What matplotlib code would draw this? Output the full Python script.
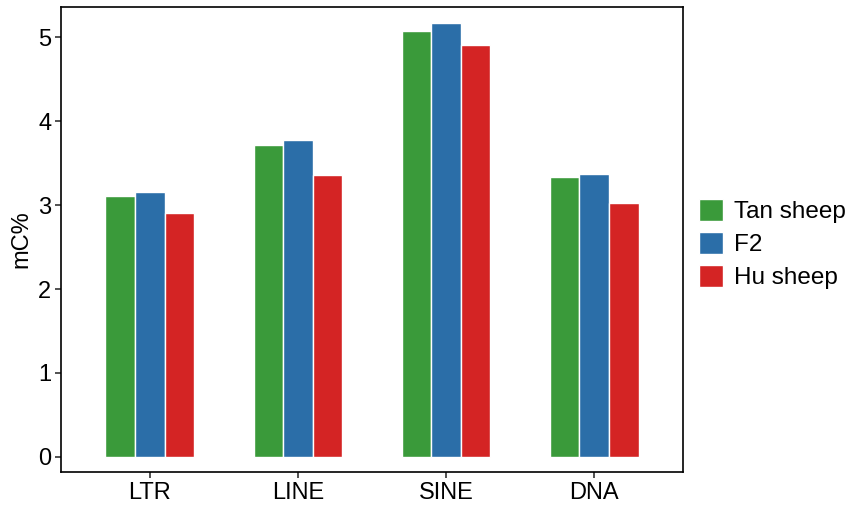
import numpy as np
import matplotlib
matplotlib.use("Agg")
import matplotlib.pyplot as plt

plt.rcParams['font.family'] = ['Liberation Sans', 'DejaVu Sans']

categories = ["LTR", "LINE", "SINE", "DNA"]
groups = ["Tan sheep", "F2", "Hu sheep"]
tan_sheep = [3.11, 3.71, 5.07, 3.33]
f2 = [3.16, 3.77, 5.17, 3.37]
hu_sheep = [2.91, 3.36, 4.91, 3.02]
colors = ["#3a9a3a", "#2b6ea8", "#d42424"]

fig = plt.figure(figsize=(8.51, 5.09), dpi=100)
ax = fig.add_axes([0.0717, 0.0727, 0.7309, 0.9136])

x = np.arange(1, len(categories) + 1)
w = 0.2
for i, (vals, name) in enumerate(zip([tan_sheep, f2, hu_sheep], groups)):
    ax.bar(x + (i - 1) * w, vals, width=w, color=colors[i], edgecolor="white",
           linewidth=1.0, label=name)

ax.set_xlim(0.4, 4.6)
ax.set_ylim(-0.18, 5.36)
ax.set_xticks(x)
ax.set_xticklabels(categories)
ax.set_yticks([0, 1, 2, 3, 4, 5])
ax.tick_params(axis='both', labelsize=17, length=4, width=1.2, color='#333333', pad=3)
ax.set_ylabel("mC%", fontsize=17, labelpad=4)
for s in ax.spines.values():
    s.set_linewidth(1.2)

ax.legend(loc='center left', bbox_to_anchor=(1.0, 0.49), frameon=False, fontsize=17.5,
          handlelength=1.0, handleheight=1.0, handletextpad=0.45, labelspacing=0.36,
          borderaxespad=0.25)

fig.savefig("out.png", dpi=100)
